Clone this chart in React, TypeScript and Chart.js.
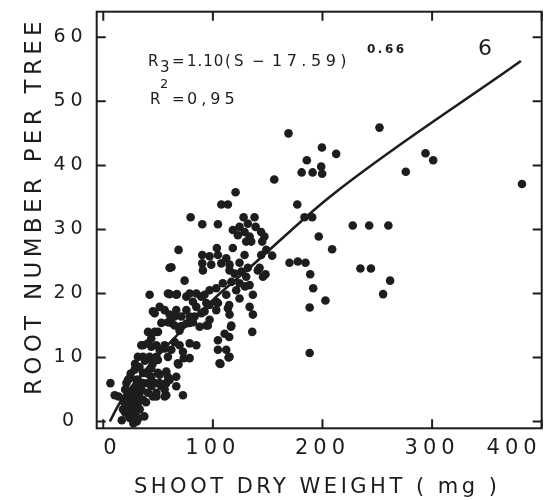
import { useEffect, useRef } from 'react';
import { Chart, registerables } from 'chart.js';

Chart.register(...registerables);

const INK = '#1d1d1d';
const FONT = "'DejaVu Sans', sans-serif";

const xTickValues = [0, 100, 200, 300, 400];
const yTickValues = [0, 10, 20, 30, 40, 50, 60];

const xTitle = 'SHOOT DRY WEIGHT ( mg )';
const yTitle = 'ROOT NUMBER PER TREE';
const panelNumber = '6';

// [shoot dry weight (mg), root number per tree]
const upperScatter: [number, number][] = [
  [169, 45.0], [252, 45.9], [199.5, 42.8], [212.5, 41.8], [185.7, 40.8], [181, 38.9], [191, 38.9],
  [198.8, 39.8], [199.7, 38.7], [156, 37.8], [276, 39.0], [294, 41.9], [301, 40.8], [382, 37.1],
  [120.7, 35.8], [107.7, 33.9], [113.7, 33.9], [177, 33.9], [183.6, 31.9], [190.6, 31.9], [79.7, 31.9],
  [90.3, 30.8], [104.6, 30.8], [128, 31.9], [138, 31.9], [124.3, 30.4], [131.9, 30.9], [139, 30.4],
  [144, 29.6], [147, 28.9], [145, 28.1], [118.2, 29.9], [122.8, 29.1], [128.9, 29.6], [133.5, 28.9],
  [130.4, 28.1], [135, 28.1], [196.6, 28.9], [208.8, 26.9], [227.6, 30.6], [242.6, 30.6], [260.1, 30.6],
  [68.7, 26.8], [103.6, 27.1], [118.2, 27.1], [128.9, 26.0], [144.1, 26.0], [154.1, 25.9], [148.7, 26.8],
  [169.9, 24.8], [177.5, 25.0], [184.5, 24.8], [188.8, 23.0], [234.6, 23.9], [244.2, 23.9], [261.7, 22.0],
  [255.3, 19.9], [191.5, 20.8], [188.3, 17.8], [202.7, 18.9], [188.3, 10.7],
];

const midBand: [number, number][] = [
  [90.3, 26.0], [97, 25.8], [104.6, 26.0], [112.2, 25.5], [107.7, 24.7], [115.2, 24.5], [90.3, 24.7],
  [90.9, 23.6], [98.5, 24.5], [142.6, 24.0], [148, 23.0], [60.5, 24.0], [119.8, 23.1], [125.9, 23.4],
  [131.9, 24.0], [115.2, 23.6], [124.3, 24.8], [141, 23.6], [145.7, 22.6], [74.2, 22.0], [129.3, 21.1],
  [42.3, 19.8], [59, 20.0], [66.6, 19.8], [75.8, 19.5], [81.8, 18.7], [89.4, 19.5], [97, 20.5],
  [103.1, 20.8], [109.1, 21.6], [116.8, 21.8], [124.3, 21.6], [130.4, 22.6], [133.5, 21.3], [121.3, 20.5],
  [112.2, 19.8], [124.3, 19.2], [136.5, 19.8], [103.1, 18.7], [94, 18.5], [51.4, 17.9], [56, 17.4],
  [60.5, 19.9], [67.2, 19.9], [78.8, 20.0], [84.9, 20.0], [92.4, 19.8], [113.7, 17.7], [115.2, 16.7],
  [133.5, 17.9], [136.5, 16.7], [116.8, 15.0], [110.7, 13.7], [104.6, 12.7], [135.9, 14.0], [104.6, 11.2],
  [112.2, 11.2], [115.2, 10.1], [106.1, 9.1], [45.3, 17.2], [60.5, 16.7], [66.6, 17.4], [71.2, 16.4],
  [75.8, 17.4], [84.9, 17.9], [78.8, 16.4], [92.4, 17.2], [97, 18.2], [103.1, 17.4], [95.4, 15.0],
  [46.9, 16.9], [65.1, 16.4], [53, 15.4], [62.1, 15.4], [71.2, 14.9], [78.8, 15.4], [83.3, 16.4],
  [89.4, 16.9], [97, 15.9], [104.6, 18.5], [114.9, 18.2], [116.5, 14.8], [114.9, 13.2], [106.9, 9.0],
  [114.3, 10.0], [62.2, 24.1],
];

const lowCluster: [number, number][] = [
  [40.8, 14.0], [49.9, 14.0], [43.8, 13.0], [59, 15.5], [65.1, 15.0], [69.6, 14.2], [75.8, 15.3],
  [81.8, 15.5], [87.9, 14.8], [94, 15.0], [36.2, 11.9], [43.8, 11.7], [51.4, 11.2], [56, 11.9],
  [65.1, 12.4], [69.6, 11.9], [78.8, 12.2], [84.9, 11.9], [62.1, 11.2], [48.4, 10.1], [42.3, 10.1],
  [36.2, 10.1], [31.6, 10.1], [68.1, 9.1], [78.8, 9.9], [72.7, 10.9], [73.4, 9.9], [68.6, 8.9],
  [46.9, 14.0], [34.7, 11.9], [40.8, 12.2], [48.4, 11.9], [56, 11.4], [49.9, 9.6], [59, 10.1],
  [28.6, 8.1], [36.2, 7.6], [43.8, 7.0], [51.4, 7.3], [59, 7.0], [57.5, 6.0], [53, 5.5], [43.8, 5.5],
  [36.2, 6.0], [30.2, 6.5], [24.1, 6.8], [21.1, 6.0], [27.1, 5.0], [33.2, 4.5], [40.8, 4.5], [48.4, 4.5],
  [56, 5.0], [45.3, 3.9], [36.2, 3.4], [27.1, 3.4], [43.8, 8.3], [49.9, 7.6], [57.5, 7.8], [22.5, 6.5],
  [31.6, 6.5], [40.8, 6.0], [51.4, 6.0], [60.5, 6.5], [66.6, 7.0], [66.6, 5.5], [56, 3.9], [48.4, 3.9],
  [6.5, 6.0], [72.7, 4.1], [57.5, 4.1], [13.9, 3.9], [18.5, 3.4], [21.5, 2.4], [26.1, 1.9], [19.9, 1.4],
  [16.9, 0.2], [24.5, 0.5], [30.6, 0], [27.5, -0.3], [37.4, 0.8], [24.1, 4.5], [21.1, 3.9], [30.2, 3.9],
  [25.6, 2.9], [31.6, 2.9], [22.5, 2.9], [28.6, 2.4], [33.2, 1.9], [18, 1.9], [10.4, 4.1], [20, 5],
  [25, 7.5], [29, 9], [33, 8.5], [38, 9.5], [35, 5], [39, 3], [23, 1], [29, 1.2], [32, 0.5], [19, 3],
  [26, 4], [30, 5.5], [34, 3.5], [40, 7.5], [45, 9], [47, 6],
];

// fitted curve
const fitShoot = [6, 15, 50, 100, 133.5, 206, 381];
const fitRoot = [0, 2.9, 10.3, 19.0, 24.0, 35.0, 56.3];

function drawText(
  ctx: CanvasRenderingContext2D,
  s: string,
  x: number,
  y: number,
  size: number,
  ls: number,
  weight = 'normal'
) {
  ctx.font = `${weight} ${size}px ${FONT}`;
  (ctx as any).letterSpacing = `${ls}px`;
  ctx.textAlign = 'left';
  ctx.textBaseline = 'alphabetic';
  ctx.fillText(s, x, y);
}

const spacingPlugin = {
  id: 'tickSpacing',
  beforeLayout(chart: any) {
    chart.ctx.letterSpacing = '5px';
  },
  beforeDraw(chart: any) {
    chart.ctx.letterSpacing = '5px';
  },
};

const framePlugin = {
  id: 'frameAndText',
  afterDraw(chart: any) {
    const { ctx, chartArea: a } = chart;
    const xs = chart.scales.x;
    const ys = chart.scales.y;
    ctx.save();
    (ctx as any).letterSpacing = '0px';
    ctx.strokeStyle = INK;
    ctx.lineWidth = 2;
    ctx.strokeRect(a.left, a.top, a.right - a.left, a.bottom - a.top);
    ctx.beginPath();
    const tl = 9;
    for (const t of xs.ticks) {
      const px = xs.getPixelForValue(t.value);
      ctx.moveTo(px, a.bottom);
      ctx.lineTo(px, a.bottom - tl);
      ctx.moveTo(px, a.top);
      ctx.lineTo(px, a.top + tl);
    }
    for (const t of ys.ticks) {
      const py = ys.getPixelForValue(t.value);
      ctx.moveTo(a.left, py);
      ctx.lineTo(a.left + tl, py);
      ctx.moveTo(a.right, py);
      ctx.lineTo(a.right - tl, py);
    }
    ctx.stroke();

    ctx.fillStyle = INK;
    // equation
    drawText(ctx, 'R', 148, 66, 15, 0);
    drawText(ctx, '3', 160, 72, 15, 0);
    drawText(ctx, '=', 172, 66, 15, 0);
    drawText(ctx, '1.10', 187, 66, 15, 1);
    drawText(ctx, '(', 225, 66, 15, 0);
    drawText(ctx, 'S', 234, 66, 15, 0);
    drawText(ctx, '−', 252, 66, 15, 0);
    drawText(ctx, '17.59)', 272, 66, 16, 4.5);
    drawText(ctx, '0.66', 367, 53, 12, 2.5, 'bold');
    drawText(ctx, 'R', 150, 104, 15, 0);
    drawText(ctx, '2', 160, 88, 13, 0);
    drawText(ctx, '=', 172, 104, 15, 0);
    drawText(ctx, '0,95', 187, 104, 16, 4);
    drawText(ctx, panelNumber, 478, 55, 22, 0);

    // axis titles
    drawText(ctx, xTitle, 134, 493, 21, 3.5);
    ctx.save();
    ctx.translate(41, 395);
    ctx.rotate(-Math.PI / 2);
    drawText(ctx, yTitle, 0, 0, 23, 4.3);
    ctx.restore();
    ctx.restore();
  },
};

export default function App() {
  const ref = useRef<HTMLCanvasElement | null>(null);

  useEffect(() => {
    document.body.style.margin = '0';
    document.body.style.background = '#ffffff';
    const canvas = ref.current;
    if (!canvas) return;
    const points = [...upperScatter, ...midBand, ...lowCluster].map(([x, y]) => ({ x, y }));
    const fit = fitShoot.map((x, i) => ({ x, y: fitRoot[i] }));

    const chart = new Chart(canvas, {
      type: 'scatter',
      data: {
        datasets: [
          {
            data: points,
            pointRadius: 4.3,
            pointHoverRadius: 4.3,
            backgroundColor: INK,
            borderWidth: 0,
            order: 2,
          },
          {
            data: fit,
            showLine: true,
            pointRadius: 0,
            borderColor: INK,
            borderWidth: 2.6,
            cubicInterpolationMode: 'monotone',
            order: 1,
          } as any,
        ],
      },
      options: {
        responsive: false,
        animation: false,
        events: [],
        layout: { padding: { left: 0, top: 11.7, right: 11.3, bottom: 0 } },
        plugins: {
          legend: { display: false },
          tooltip: { enabled: false },
        },
        scales: {
          x: {
            type: 'linear',
            min: -6,
            max: 400,
            grid: { display: false, drawTicks: false },
            border: { display: false },
            afterBuildTicks: (s: any) => {
              s.ticks = xTickValues.map((value) => ({ value }));
            },
            afterFit: (s: any) => {
              s.height = 71.7;
              s.paddingLeft = 0;
              s.paddingRight = 0;
            },
            ticks: {
              color: INK,
              font: { family: FONT, size: 21 },
              padding: 8,
              align: 'inner',
              maxRotation: 0,
              autoSkip: false,
            },
          },
          y: {
            type: 'linear',
            min: -1.06,
            max: 64,
            grid: { display: false, drawTicks: false },
            border: { display: false },
            afterBuildTicks: (s: any) => {
              s.ticks = yTickValues.map((value) => ({ value }));
            },
            afterFit: (s: any) => {
              s.width = 96.7;
              s.paddingTop = 0;
              s.paddingBottom = 0;
            },
            ticks: {
              color: INK,
              font: { family: FONT, size: 19 },
              padding: 9,
              crossAlign: 'center',
              autoSkip: false,
            },
          },
        },
      } as any,
      plugins: [spacingPlugin, framePlugin],
    });
    return () => chart.destroy();
  }, []);

  return (
    <div style={{ width: 553, height: 500, background: '#fff' }}>
      <canvas ref={ref} width={553} height={500} style={{ display: 'block' }} />
    </div>
  );
}
